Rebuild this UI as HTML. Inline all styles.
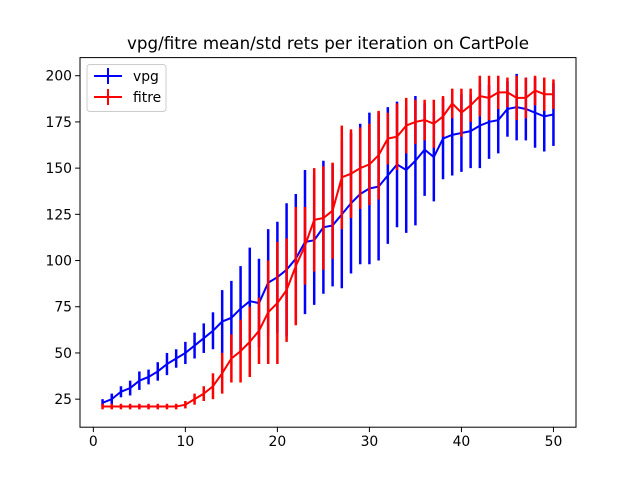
<!DOCTYPE html>
<html><head><meta charset="utf-8"><style>
body{margin:0;background:#fff}
svg{display:block;font-family:"DejaVu Sans","Liberation Sans",sans-serif}
</style></head><body>
<svg id="c" width="640" height="480" xmlns="http://www.w3.org/2000/svg">
<rect width="640" height="480" fill="#fff"/>
<text x="328" y="49" font-size="16.7" text-anchor="middle">vpg/fitre mean/std rets per iteration on CartPole</text>
<g id="plot"></g>
<rect x="80" y="57.6" width="496" height="369.6" fill="none" stroke="#000" stroke-width="1"/>
<g id="ticks"></g>
<g>
<rect x="87" y="64.5" width="79" height="47" rx="3" fill="#fff" fill-opacity="0.8" stroke="#ccc"/>
<g>
<line x1="94" y1="76" x2="122" y2="76" stroke="#0000ff" stroke-width="2"/><line x1="108" y1="68" x2="108" y2="84" stroke="#0000ff" stroke-width="2"/>
<text x="133" y="81" font-size="13.9">vpg</text></g>
<g>
<line x1="94" y1="97" x2="122" y2="97" stroke="#ff0000" stroke-width="2"/><line x1="108" y1="89" x2="108" y2="105" stroke="#ff0000" stroke-width="2"/>
<text x="133" y="102" font-size="13.9">fitre</text></g>
</g>
</svg>
<script>
const iterations = Array.from({length:50},(_,i)=>i+1);
const vpgMean = [23,25,29,31,35,37,40,44,47,50,54,58,62,67,69,74,78,77,88,91,95,101,110,111,118,119,125,131,136,139,140,146,152,149,154,160,156,166,168,169,170,173,175,176,182,183,182,180,178,179];
const vpgStd = [2,3,3,4,5,4,5,6,5,6,7,8,10,17,20,23,29,24,29,30,36,35,39,35,36,33,40,38,38,41,40,37,34,34,35,25,24,22,22,21,20,23,20,18,15,18,17,19,19,17];
const fitreMean = [21,21,21,21,21,21,21,21,21,22,25,28,32,39,47,51,56,62,72,77,84,97,108,122,123,127,145,147,150,152,157,166,167,173,175,176,174,178,185,180,184,189,188,191,191,188,188,192,190,190];
const fitreStd = [1.5,1.5,1.5,1.5,1.5,1.5,1.5,1.5,1.5,2,3,4,7,11,13,17,19,18,28,33,28,32,21,28,28,26,28,24,22,22,24,14,18,15,12,11,13,11,8,13,9,11,12,9,8,12,11,8,9,8];
const xTicks = [0,10,20,30,40,50];
const yTicks = [25,50,75,100,125,150,175,200];
const NS="http://www.w3.org/2000/svg";
const X0=80,X1=576,Y0=427.2,Y1=57.6,xmin=-1.45,xmax=52.45,ymin=9.83,ymax=209.8;
const sx=v=>X0+(v-xmin)/(xmax-xmin)*(X1-X0);
const sy=v=>Y0-(v-ymin)/(ymax-ymin)*(Y0-Y1);
function mk(tag,attrs,parent){const e=document.createElementNS(NS,tag);for(const k in attrs)e.setAttribute(k,attrs[k]);parent.appendChild(e);return e;}
const plot=document.getElementById('plot');
function series(mean,std,color,name){
  const g=mk('g',{},plot);
  
  
  iterations.forEach((x,i)=>{
    const l=mk('line',{x1:sx(x),x2:sx(x),y1:sy(mean[i]-std[i]),y2:sy(mean[i]+std[i]),stroke:color,'stroke-width':2.5},g);
    
    
  });
  const p=mk('polyline',{points:iterations.map((x,i)=>sx(x)+','+sy(mean[i])).join(' '),fill:'none',stroke:color,'stroke-width':2},g);
  
  
}
series(vpgMean,vpgStd,'#0000ff','vpg');
series(fitreMean,fitreStd,'#ff0000','fitre');
const tg=document.getElementById('ticks');
xTicks.forEach(t=>{
  mk('line',{x1:sx(t),x2:sx(t),y1:Y0,y2:Y0+4.9,stroke:'#000'},tg);
  const tx=mk('text',{x:sx(t),y:Y0+19,'font-size':13.9,'text-anchor':'middle'},tg);
  tx.textContent=t;
  
  
});
yTicks.forEach(t=>{
  mk('line',{x1:X0-4.9,x2:X0,y1:sy(t),y2:sy(t),stroke:'#000'},tg);
  const tx=mk('text',{x:X0-8,y:sy(t)+5,'font-size':13.9,'text-anchor':'end'},tg);
  tx.textContent=t;
  
  
});
</script>
</body></html>
